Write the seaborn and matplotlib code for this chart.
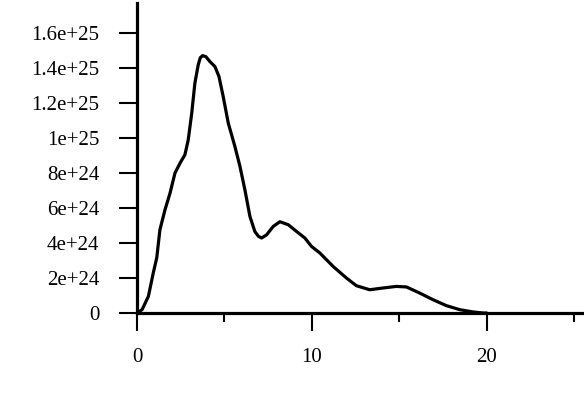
import matplotlib
matplotlib.use("Agg")
import matplotlib.pyplot as plt
import seaborn as sns
import pandas as pd
from matplotlib.ticker import FixedLocator

sns.set_theme(style="ticks")
plt.rcParams['font.family'] = ['Liberation Serif', 'DejaVu Serif']

x_vals = [0, 0.29, 0.65, 0.93, 1.13, 1.31, 1.6, 1.89, 2.17, 2.46, 2.74, 2.93, 3.13, 3.31,
          3.50, 3.62, 3.75, 3.94, 4.17, 4.46, 4.69, 4.93, 5.22, 5.6, 5.89, 6.17, 6.46, 6.74,
          6.95, 7.13, 7.41, 7.79, 8.17, 8.65, 9.13, 9.6, 9.98, 10.46, 11.22, 11.98, 12.55,
          13.31, 14.07, 14.83, 15.41, 16.17, 16.93, 17.70, 18.46, 19.22, 19.79, 20.0]
y_vals_e24 = [0, 0.19, 0.95, 2.29, 3.16, 4.76, 5.90, 6.86, 8.0, 8.57, 9.05, 9.90, 11.43, 13.14,
              14.19, 14.60, 14.72, 14.66, 14.38, 14.09, 13.52, 12.38, 10.86, 9.52, 8.38, 7.05, 5.52, 4.66,
              4.38, 4.29, 4.47, 4.95, 5.22, 5.05, 4.66, 4.29, 3.81, 3.43, 2.66, 2.0, 1.56,
              1.33, 1.43, 1.52, 1.49, 1.14, 0.76, 0.42, 0.19, 0.06, 0.0, 0.0]
y_ticks = [0, 2e24, 4e24, 6e24, 8e24, 1e25, 1.2e25, 1.4e25, 1.6e25]
y_tick_labels = ["0", "2e+24", "4e+24", "6e+24", "8e+24", "1e+25", "1.2e+25", "1.4e+25", "1.6e+25"]
x_ticks = [0, 10, 20]
x_tick_labels = ["0", "10", "20"]
x_minor = [5, 15, 25]

df = pd.DataFrame({"x": x_vals, "y": [v * 1e24 for v in y_vals_e24]})

fig = plt.figure(figsize=(5.84, 3.96), dpi=100)
ax = fig.add_axes([0.2346, 0.2096, 0.7634, 0.7828])
sns.lineplot(data=df, x="x", y="y", ax=ax, color="black", linewidth=2.3, sort=False)

ax.set_xlim(0, 25.5)
ax.set_ylim(0, 1.773e25)
ax.set_xticks(x_ticks)
ax.set_xticklabels(x_tick_labels)
ax.xaxis.set_minor_locator(FixedLocator(x_minor))
ax.set_yticks(y_ticks)
ax.set_yticklabels(y_tick_labels)
ax.set_xlabel("")
ax.set_ylabel("")

for side in ["top", "right"]:
    ax.spines[side].set_visible(False)
for side in ["left", "bottom"]:
    ax.spines[side].set_linewidth(2.3)
    ax.spines[side].set_color("black")

ax.tick_params(axis="both", which="major", length=13, width=1.5, color="black",
               labelsize=15, labelcolor="black")
ax.tick_params(axis="y", which="major", pad=14)
ax.tick_params(axis="x", which="minor", length=6.5, width=1.5, color="black")
ax.tick_params(axis="x", which="major", pad=12)
ax.grid(False)
ax.set_facecolor("white")
fig.patch.set_facecolor("white")

fig.savefig("out.png", dpi=100)
